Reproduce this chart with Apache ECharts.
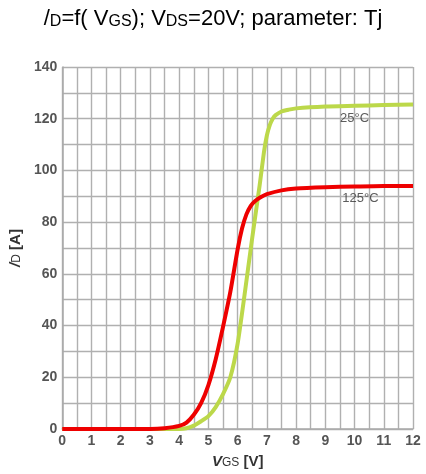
<!DOCTYPE html>
<html><head><meta charset="utf-8">
<script src="https://cdn.jsdelivr.net/npm/echarts@6/dist/echarts.min.js"></script>
<style>html,body{margin:0;padding:0;background:#fff}#c{width:426px;height:474px}</style>
</head><body><div id="c"></div>
<script>
var vgs25 = [0, 1, 2, 3, 4, 4.25, 4.5, 4.75, 5, 5.25, 5.5, 5.75, 6, 6.25, 6.5, 6.75, 6.9, 7, 7.1, 7.2, 7.3, 7.5, 7.75, 8, 9, 10, 11, 12];
var id25  = [0, 0, 0, 0, 0, 0.3, 1.3, 3, 5, 8.5, 13.5, 20, 33, 53, 74, 94, 107, 113.5, 117.5, 120, 121.4, 122.8, 123.5, 124, 124.7, 125, 125.3, 125.5];
var vgs125 = [0, 1, 2, 3, 3.5, 4, 4.25, 4.5, 4.75, 5, 5.25, 5.5, 5.75, 6, 6.15, 6.3, 6.45, 6.6, 6.8, 7, 7.5, 8, 9, 10, 11, 12];
var id125  = [0, 0, 0, 0, 0.3, 1.2, 2.5, 5.5, 10, 17, 27, 39.5, 53, 69.5, 77.5, 83, 86.3, 88.2, 89.7, 90.8, 92.3, 93, 93.5, 93.8, 94, 94];
var labels = [{name:'25°C', v:10.0, i:120}, {name:'125°C', v:10.2, i:89}];

function pairs(xs, ys){ return xs.map(function(x,k){return [x, ys[k]];}); }
var chart = echarts.init(document.getElementById('c'));
var F = 'Liberation Sans';
function nameRich(sz){ return {
  i: {fontStyle:'italic', fontWeight:'bold', fontSize: sz, color:'#333', fontFamily:F},
  s: {fontSize: sz-3, color:'#333', verticalAlign:'bottom', fontFamily:F},
  b: {fontWeight:'bold', fontSize: sz, color:'#333', fontFamily:F}}; }
chart.setOption({
  animation: false,
  title: {
    text: '/{s|D}=f( V{s|GS}); V{s|DS}=20V; parameter: Tj',
    left: 'center', top: 3,
    textStyle: {fontSize: 22, fontWeight: 'normal', color: '#000', fontFamily: F,
      rich: {s: {fontSize: 16, verticalAlign: 'bottom', color:'#000', fontFamily: F}}}
  },
  grid: {left: 62, right: 13, top: 67, bottom: 44},
  xAxis: {
    type: 'value', min: 0, max: 12, interval: 1,
    axisLine: {show: true, lineStyle: {color: '#aaa', width: 1.5}},
    axisTick: {show: false},
    axisLabel: {color: '#555', fontWeight: 'bold', fontSize: 14, fontFamily: F, margin: 5},
    splitLine: {show: true, lineStyle: {color: '#b0b0b0', width: 1.4}},
    minorTick: {show: false, splitNumber: 2},
    minorSplitLine: {show: true, lineStyle: {color: '#b0b0b0', width: 1.4}},
    name: '{i|V}{s|GS} {b|[V]}', nameLocation: 'middle', nameGap: 25,
    nameTextStyle: {color:'#333', fontSize: 15, fontFamily: F, rich: nameRich(15)}
  },
  yAxis: {
    type: 'value', min: 0, max: 140, interval: 20,
    axisLine: {show: true, lineStyle: {color: '#aaa', width: 1.5}},
    axisTick: {show: false},
    axisLabel: {color: '#555', fontWeight: 'bold', fontSize: 14, fontFamily: F, margin: 5},
    splitLine: {show: true, lineStyle: {color: '#b0b0b0', width: 1.4}},
    minorTick: {show: false, splitNumber: 2},
    minorSplitLine: {show: true, lineStyle: {color: '#b0b0b0', width: 1.4}},
    name: '{i|/}{s|D} {b|[A]}', nameLocation: 'middle', nameGap: 12, nameRotate: 90,
    nameTextStyle: {color:'#333', fontSize: 15, fontFamily: F, rich: nameRich(15)}
  },
  series: [
    {type: 'line', data: pairs(vgs25, id25), smooth: 0.2, showSymbol: false,
     lineStyle: {color: '#bcd84a', width: 4}, z: 3},
    {type: 'line', data: pairs(vgs125, id125), smooth: 0.2, showSymbol: false,
     lineStyle: {color: '#ee0000', width: 4}, z: 4},
    {type: 'scatter', symbolSize: 0, data: labels.map(function(l){return {value:[l.v, l.i], name:l.name};}),
     label: {show: true, formatter: '{b}', position: 'inside', color: '#333', fontSize: 13, fontFamily: F}, z: 5}
  ]
});
</script></body></html>
